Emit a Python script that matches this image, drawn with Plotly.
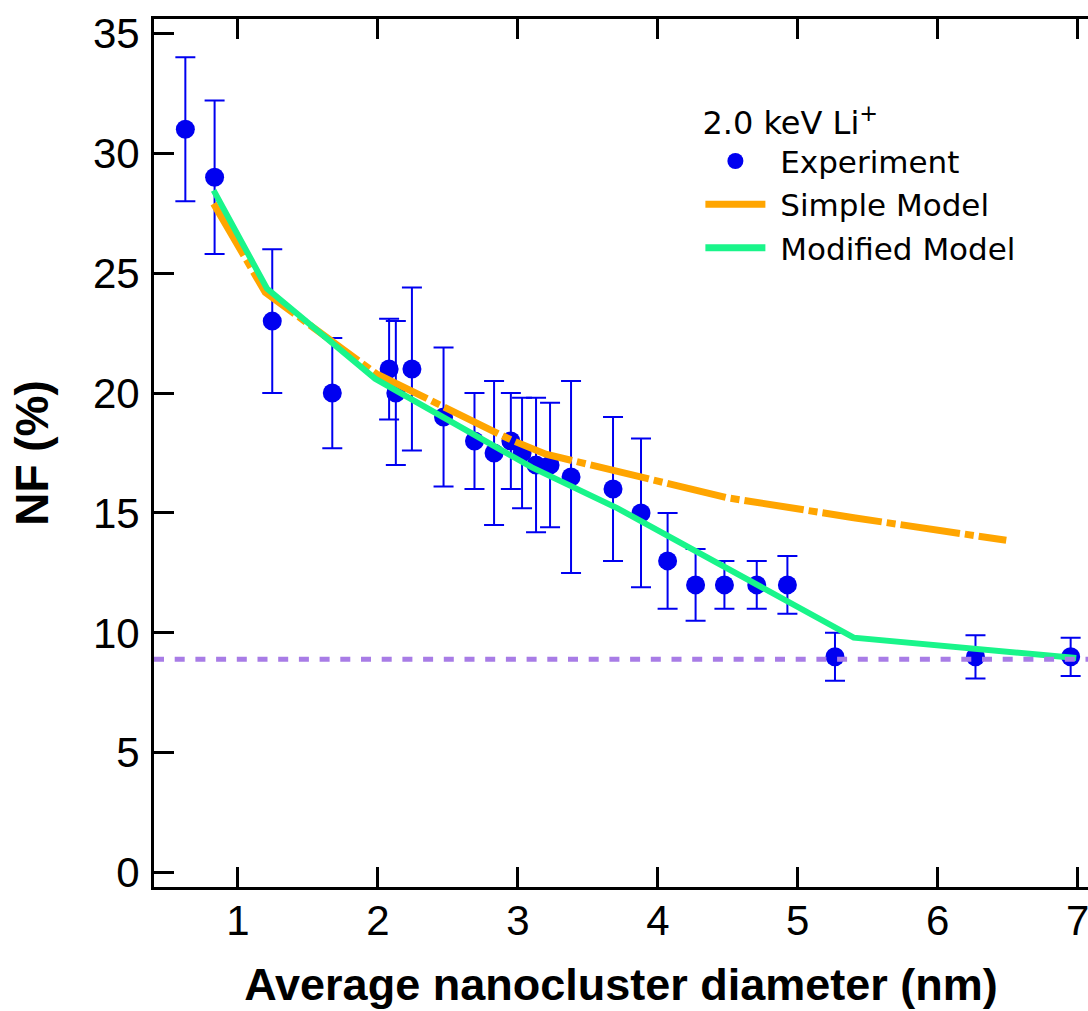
import plotly.graph_objects as go

# Experimental data
exp_x = [0.624, 0.833, 1.245, 1.674, 2.08, 2.128, 2.243, 2.469, 2.69, 2.83, 2.95, 3.03, 3.13, 3.23, 3.38,
         3.68, 3.88, 4.07, 4.27, 4.476, 4.707, 4.926, 5.266, 6.27, 6.95]
exp_y = [31.0, 29.0, 23.0, 20.0, 21.0, 20.0, 21.0, 19.0, 18.0, 17.5, 18.0, 17.5, 17.0, 17.0, 16.5,
         16.0, 15.0, 13.0, 12.0, 12.0, 12.0, 12.0, 9.0, 9.0, 9.0]
exp_err = [3.0, 3.2, 3.0, 2.3, 2.1, 3.0, 3.4, 2.9, 2.0, 3.0, 2.0, 2.3, 2.8, 2.6, 4.0,
           3.0, 3.1, 2.0, 1.5, 1.0, 1.0, 1.2, 1.0, 0.9, 0.8]

# Simple model
simple_x = [0.826, 1.195, 1.99, 2.47, 2.95, 3.2, 4.49, 5.40, 6.49]
simple_y = [27.9, 24.2, 20.8, 19.45, 18.05, 17.45, 15.64, 14.8, 13.86]

# Modified model
mod_x = [0.826, 1.207, 1.98, 3.1, 3.71, 5.40, 6.99]
mod_y = [28.45, 24.36, 20.6, 16.9, 15.2, 9.8, 8.95]

# Horizontal reference level
baseline_y = 8.9

y_ticks = [0, 5, 10, 15, 20, 25, 30, 35]
x_ticks = [1, 2, 3, 4, 5, 6, 7]

FONT = "Liberation Sans, Arial, Helvetica, sans-serif"
LEGFONT = "DejaVu Sans, Liberation Sans, Arial, sans-serif"
BLUE = "#0000F0"
ORANGE = "#FFA500"
GREEN = "#19F58A"
PURPLE = "#A87CE6"
PAD = "\u00a0"

fig = go.Figure()

fig.add_trace(go.Scatter(
    x=exp_x, y=exp_y, mode="markers", name=PAD + "Experiment",
    marker=dict(color=BLUE, size=19, symbol="circle"),
    error_y=dict(type="data", array=exp_err, visible=True, color=BLUE, thickness=2, width=10),
    showlegend=True,
))

fig.add_trace(go.Scatter(
    x=simple_x, y=simple_y, mode="lines", name="Simple Model",
    line=dict(color=ORANGE, width=7, dash="60px,5px,9px,5px"), showlegend=False,
))
fig.add_trace(go.Scatter(
    x=mod_x, y=mod_y, mode="lines", name="Modified Model",
    line=dict(color=GREEN, width=6), showlegend=False,
))
# legend entries
fig.add_trace(go.Scatter(
    x=[None], y=[None], mode="lines", name=PAD + "Simple Model",
    line=dict(color=ORANGE, width=7),
))
fig.add_trace(go.Scatter(
    x=[None], y=[None], mode="lines", name=PAD + "Modified Model",
    line=dict(color=GREEN, width=7),
))

fig.add_shape(type="line", xref="paper", x0=0, x1=1, yref="y", y0=baseline_y, y1=baseline_y,
              line=dict(color=PURPLE, width=5, dash="10px,10.7px"), layer="above")

fig.update_layout(
    width=1088, height=1011,
    margin=dict(l=154, r=0, t=19, b=124),
    paper_bgcolor="white", plot_bgcolor="white",
    font=dict(family=FONT, color="black"),
    xaxis=dict(
        range=[0.4, 7.074], tickvals=x_ticks, ticktext=[str(v) for v in x_ticks],
        ticks="inside", ticklen=20, tickwidth=3, tickcolor="black",
        showline=True, linewidth=3, linecolor="black", mirror="ticks",
        showgrid=False, zeroline=False, automargin=False,
        tickfont=dict(size=42, family=FONT), ticklabelstandoff=-5, ticklabeloverflow="allow",
        title=dict(text="<b>Average nanocluster diameter (nm)</b>", font=dict(size=45, family=FONT), standoff=26),
    ),
    yaxis=dict(
        range=[-0.6, 35.6], tickvals=y_ticks, ticktext=[str(v) for v in y_ticks],
        ticks="inside", ticklen=20, tickwidth=3, tickcolor="black",
        showline=True, linewidth=3, linecolor="black", mirror=False,
        showgrid=False, zeroline=False, automargin=False,
        tickfont=dict(size=42, family=FONT), ticklabelstandoff=3, ticklabeloverflow="allow",
        title=dict(text="<b>NF (%)</b>", font=dict(size=46, family=FONT), standoff=30),
    ),
    yaxis2=dict(
        range=[-0.6, 35.6], tickvals=y_ticks, overlaying="y", side="right", anchor="x",
        ticks="inside", ticklen=20, tickwidth=3, tickcolor="black", automargin=False,
        showline=False, showgrid=False, zeroline=False, showticklabels=False,
    ),
    legend=dict(
        x=0.585, y=0.915, xanchor="left", yanchor="top",
        bgcolor="rgba(0,0,0,0)", borderwidth=0,
        font=dict(size=31, family=LEGFONT, color="black"),
        title=dict(text="2.0 keV Li<sup>+</sup>", font=dict(size=32, family=LEGFONT, color="black")),
        itemwidth=60, tracegroupgap=0,
    ),
)

fig.write_html("out.html")
